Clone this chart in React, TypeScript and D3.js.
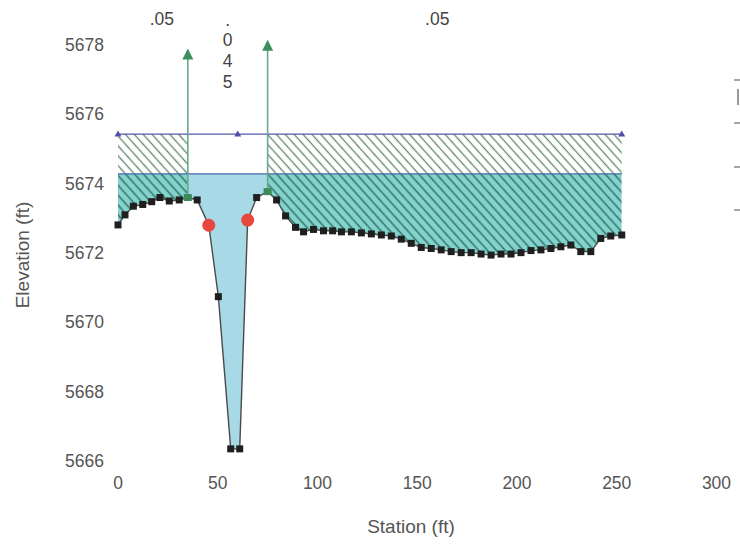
import React from "react";
import * as d3 from "d3";

// ---- data ----
const stations = [0, 3.5, 7.7, 12.4, 16.9, 21, 25.7, 30.7, 35, 39.7, 45.5, 50.3, 56.5, 61, 65, 69.5, 75, 79.5, 84, 89, 93, 98, 103, 107.6, 112, 117, 122, 127, 132, 137, 142, 147, 152, 157, 162, 167, 172, 177, 182, 187, 192, 197, 202, 207, 212, 217, 222, 227, 232, 237, 242, 247, 252.5];
const elevations = [5672.81, 5673.1, 5673.35, 5673.4, 5673.48, 5673.6, 5673.5, 5673.53, 5673.6, 5673.53, 5672.8, 5670.74, 5666.35, 5666.35, 5672.95, 5673.6, 5673.77, 5673.53, 5673.07, 5672.74, 5672.61, 5672.68, 5672.64, 5672.64, 5672.61, 5672.61, 5672.58, 5672.55, 5672.52, 5672.49, 5672.4, 5672.28, 5672.16, 5672.13, 5672.09, 5672.04, 5672.01, 5672.01, 5671.97, 5671.94, 5671.97, 5671.97, 5672.01, 5672.07, 5672.09, 5672.13, 5672.18, 5672.23, 5672.04, 5672.04, 5672.42, 5672.49, 5672.52];
const redStations = [45.5, 65];
const bankStations = [35, 75];
const bankArrowTops = [5677.9, 5678.15];
const wsElev = 5674.28;
const egElev = 5675.43;
const egMarkerStations = [0, 60, 252.5];
const xTicks = [0, 50, 100, 150, 200, 250, 300];
const yTicks = [5666, 5668, 5670, 5672, 5674, 5676, 5678];
const nLabels = [".05", ".045", ".05"];
const nLabelStations = [22, 55, 160];

const W = 740;
const H = 548;

export default function App() {
  const x = d3.scaleLinear().domain([0, 300]).range([118, 716.5]);
  const y = d3.scaleLinear().domain([5666, 5678]).range([461, 45]);

  const pts = stations.map((s, i) => [s, elevations[i]] as [number, number]);
  const first = stations[0];
  const last = stations[stations.length - 1];

  const groundLine = d3
    .line<[number, number]>()
    .x((d) => x(d[0]))
    .y((d) => y(d[1]))(pts) as string;

  const aboveGround =
    `M${x(first)},${y(5680)}` +
    pts.map((d) => `L${x(d[0])},${y(d[1])}`).join("") +
    `L${x(last)},${y(5680)}Z`;

  const elevAt = (s: number) => {
    for (let i = 0; i < stations.length - 1; i++) {
      if (s >= stations[i] && s <= stations[i + 1]) {
        const t = (s - stations[i]) / (stations[i + 1] - stations[i]);
        return elevations[i] + t * (elevations[i + 1] - elevations[i]);
      }
    }
    return elevations[elevations.length - 1];
  };

  const overbanks: [number, number][] = [
    [first, bankStations[0]],
    [bankStations[1], last],
  ];

  const font = "'Liberation Sans', Arial, sans-serif";
  const textColor = "#555";

  const squares = stations
    .map((s, i) => ({ s, e: elevations[i] }))
    .filter((d) => !redStations.includes(d.s) && !bankStations.includes(d.s));

  return (
    <svg width={W} height={H} style={{ position: "absolute", left: 0, top: 0, background: "#fff" }}>
      <defs>
        <pattern id="hatchUpper" patternUnits="userSpaceOnUse" width="6.6" height="6.6" patternTransform="rotate(-42)">
          <line x1="3.3" y1="-1" x2="3.3" y2="8" stroke="#5c8a70" strokeWidth="1.3" />
        </pattern>
        <pattern id="hatchLower" patternUnits="userSpaceOnUse" width="6.6" height="6.6" patternTransform="rotate(-42)">
          <line x1="3.3" y1="-1" x2="3.3" y2="8" stroke="#386f64" strokeWidth="1.5" />
        </pattern>
        <clipPath id="aboveGround">
          <path d={aboveGround} />
        </clipPath>
      </defs>

      {/* upper band (between WS and EG) in overbanks */}
      {overbanks.map(([a, b], i) => (
        <rect
          key={"ub" + i}
          x={x(a)}
          y={y(egElev)}
          width={x(b) - x(a)}
          height={y(wsElev) - y(egElev)}
          fill="url(#hatchUpper)"
        />
      ))}

      <g clipPath="url(#aboveGround)">
        {overbanks.map(([a, b], i) => (
          <g key={"lb" + i}>
            <rect x={x(a)} y={y(wsElev)} width={x(b) - x(a)} height={y(5666) - y(wsElev)} fill="#82d4cf" />
            <rect x={x(a)} y={y(wsElev)} width={x(b) - x(a)} height={y(5666) - y(wsElev)} fill="url(#hatchLower)" />
          </g>
        ))}
        <rect
          x={x(bankStations[0])}
          y={y(wsElev)}
          width={x(bankStations[1]) - x(bankStations[0])}
          height={y(5666) - y(wsElev)}
          fill="#a7d9e7"
        />
      </g>

      {/* water surface and energy grade lines */}
      <line x1={x(first)} x2={x(last)} y1={y(wsElev)} y2={y(wsElev)} stroke="#4a66a8" strokeWidth={1.2} />
      <line x1={x(first)} x2={x(last)} y1={y(egElev)} y2={y(egElev)} stroke="#5757a8" strokeWidth={1.2} />
      {egMarkerStations.map((s, i) => (
        <path
          key={"eg" + i}
          d={`M${x(s) - 3.5},${y(egElev) + 2.5} L${x(s) + 3.5},${y(egElev) + 2.5} L${x(s)},${y(egElev) - 3.5}Z`}
          fill="#4f4fa5"
        />
      ))}

      {/* ground line */}
      <path d={groundLine} fill="none" stroke="#4a4a4a" strokeWidth={1.4} />

      {/* bank station verticals */}
      {bankStations.map((s, i) => {
        const gx = x(s);
        const top = y(bankArrowTops[i]);
        return (
          <g key={"bank" + i}>
            <line x1={gx} x2={gx} y1={y(elevAt(s))} y2={top + 8} stroke="#6aa98c" strokeWidth={1.6} />
            <path d={`M${gx - 5.5},${top + 11} L${gx + 5.5},${top + 11} L${gx},${top}Z`} fill="#3d8f5e" />
            <rect x={gx - 4} y={y(elevAt(s)) - 3.5} width={8} height={7} fill="#3a8a5a" />
          </g>
        );
      })}

      {/* ground points */}
      {squares.map((d, i) => (
        <rect key={"sq" + i} x={x(d.s) - 3.5} y={y(d.e) - 3.5} width={7} height={7} fill="#1f1f1f" />
      ))}
      {redStations.map((s, i) => (
        <circle key={"red" + i} cx={x(s)} cy={y(elevAt(s))} r={6.5} fill="#e8473d" />
      ))}

      {/* axes */}
      {yTicks.map((t) => (
        <text key={"yt" + t} x={104} y={y(t)} textAnchor="end" dominantBaseline="central" fontFamily={font} fontSize={17.5} fill={textColor}>
          {t}
        </text>
      ))}
      {xTicks.map((t) => (
        <text key={"xt" + t} x={x(t)} y={483} textAnchor="middle" dominantBaseline="central" fontFamily={font} fontSize={17.5} fill={textColor}>
          {t}
        </text>
      ))}
      <text x={411} y={526} textAnchor="middle" dominantBaseline="central" fontFamily={font} fontSize={19} fill={textColor}>
        Station (ft)
      </text>
      <text
        transform={`translate(22,${255}) rotate(-90)`}
        textAnchor="middle"
        dominantBaseline="central"
        fontFamily={font}
        fontSize={19}
        fill={textColor}
      >
        Elevation (ft)
      </text>

      {/* Manning's n labels */}
      <text x={x(nLabelStations[0])} y={19} textAnchor="middle" dominantBaseline="central" fontFamily={font} fontSize={17.5} fill="#444">
        {nLabels[0]}
      </text>
      <text x={x(nLabelStations[2])} y={19} textAnchor="middle" dominantBaseline="central" fontFamily={font} fontSize={17.5} fill="#444">
        {nLabels[2]}
      </text>
      {nLabels[1].split("").map((ch, i) => (
        <text
          key={"nc" + i}
          x={x(nLabelStations[1])}
          y={i === 0 ? 20 : 19 + i * 21}
          textAnchor="middle"
          dominantBaseline="central"
          fontFamily={font}
          fontSize={17.5}
          fill="#444"
        >
          {ch}
        </text>
      ))}

      {/* clipped legend remnants at right edge */}
      {[80, 123, 167, 210].map((yy, i) => (
        <line key={"lg" + i} x1={734} x2={740} y1={yy} y2={yy} stroke="#888" strokeWidth={1.5} />
      ))}
      <line x1={738} x2={738} y1={89} y2={105} stroke="#777" strokeWidth={1.5} />
    </svg>
  );
}
